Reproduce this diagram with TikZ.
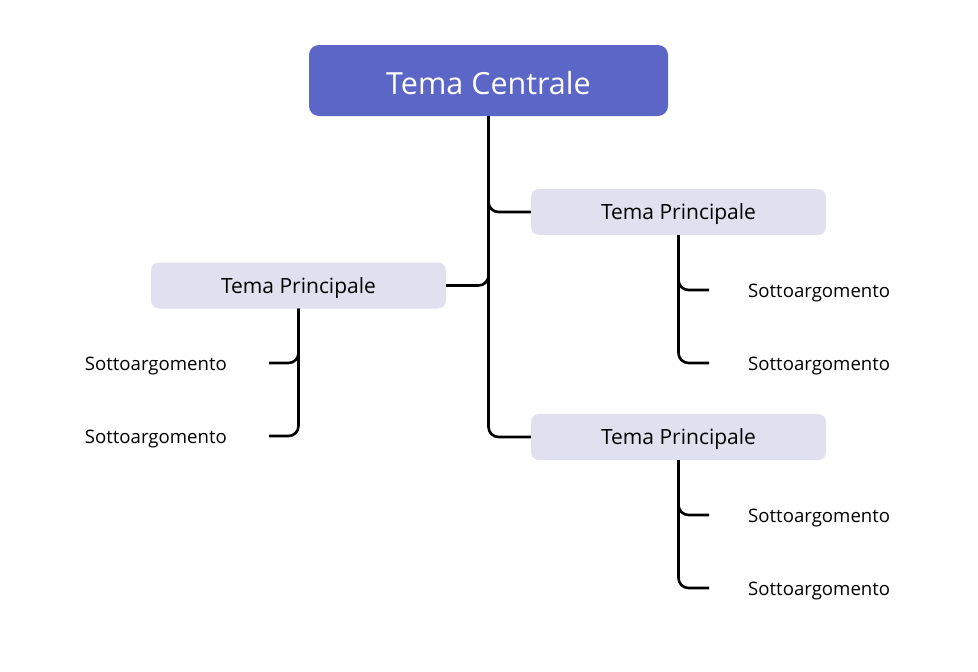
\documentclass[tikz,border=0pt]{standalone}
\usepackage{fontspec}
\setmainfont{Open Sans}
\definecolor{central}{HTML}{5B66C6}
\definecolor{mainfill}{HTML}{E1E0EF}
\newcommand\lowtxt[2]{\raisebox{-#1}[\height][\depth]{#2}}
\begin{document}
\begin{tikzpicture}[x=1pt,y=-1pt,
  centralbox/.style={fill=central, text=white, rounded corners=10pt, minimum width=359pt, minimum height=71pt, inner sep=0pt, font=\fontsize{30.5}{34}\selectfont},
  mainbox/.style={fill=mainfill, text=black, rounded corners=8pt, minimum width=295pt, minimum height=46pt, inner sep=0pt, font=\fontsize{21}{24}\selectfont},
  subleft/.style={anchor=east, inner xsep=42pt, inner ysep=0pt, font=\fontsize{18.6}{22}\selectfont},
  subright/.style={anchor=west, inner xsep=39pt, inner ysep=0pt, font=\fontsize{18.6}{22}\selectfont},
  link/.style={draw=black, line width=2.6pt, rounded corners=10pt}]
\useasboundingbox (0,0) rectangle (978,672);
\node[centralbox] (c) at (488.5,80.5) {\lowtxt{2.5pt}{Tema Centrale}};
\node[mainbox] (r1) at (678.5,212) {\lowtxt{2.5pt}{Tema Principale}};
\node[mainbox] (l) at (298.5,285.5) {\lowtxt{2.5pt}{Tema Principale}};
\node[mainbox] (r2) at (678.5,437) {\lowtxt{2.5pt}{Tema Principale}};
\node[subright] (s1) at (709,290) {\lowtxt{3pt}{Sottoargomento}};
\node[subright] (s2) at (709,363) {\lowtxt{3pt}{Sottoargomento}};
\node[subright] (s3) at (709,515) {\lowtxt{3pt}{Sottoargomento}};
\node[subright] (s4) at (709,588) {\lowtxt{3pt}{Sottoargomento}};
\node[subleft] (s5) at (269,363) {\lowtxt{3pt}{Sottoargomento}};
\node[subleft] (s6) at (269,436) {\lowtxt{3pt}{Sottoargomento}};
\draw[link] (c.south) |- (r1.west);
\draw[link] (c.south) |- (l.east);
\draw[link] (c.south) |- (r2.west);
\draw[link] (r1.south) |- (s1.west);
\draw[link] (r1.south) |- (s2.west);
\draw[link] (r2.south) |- (s3.west);
\draw[link] (r2.south) |- (s4.west);
\draw[link] (l.south) |- (s5.east);
\draw[link] (l.south) |- (s6.east);
\end{tikzpicture}
\end{document}
